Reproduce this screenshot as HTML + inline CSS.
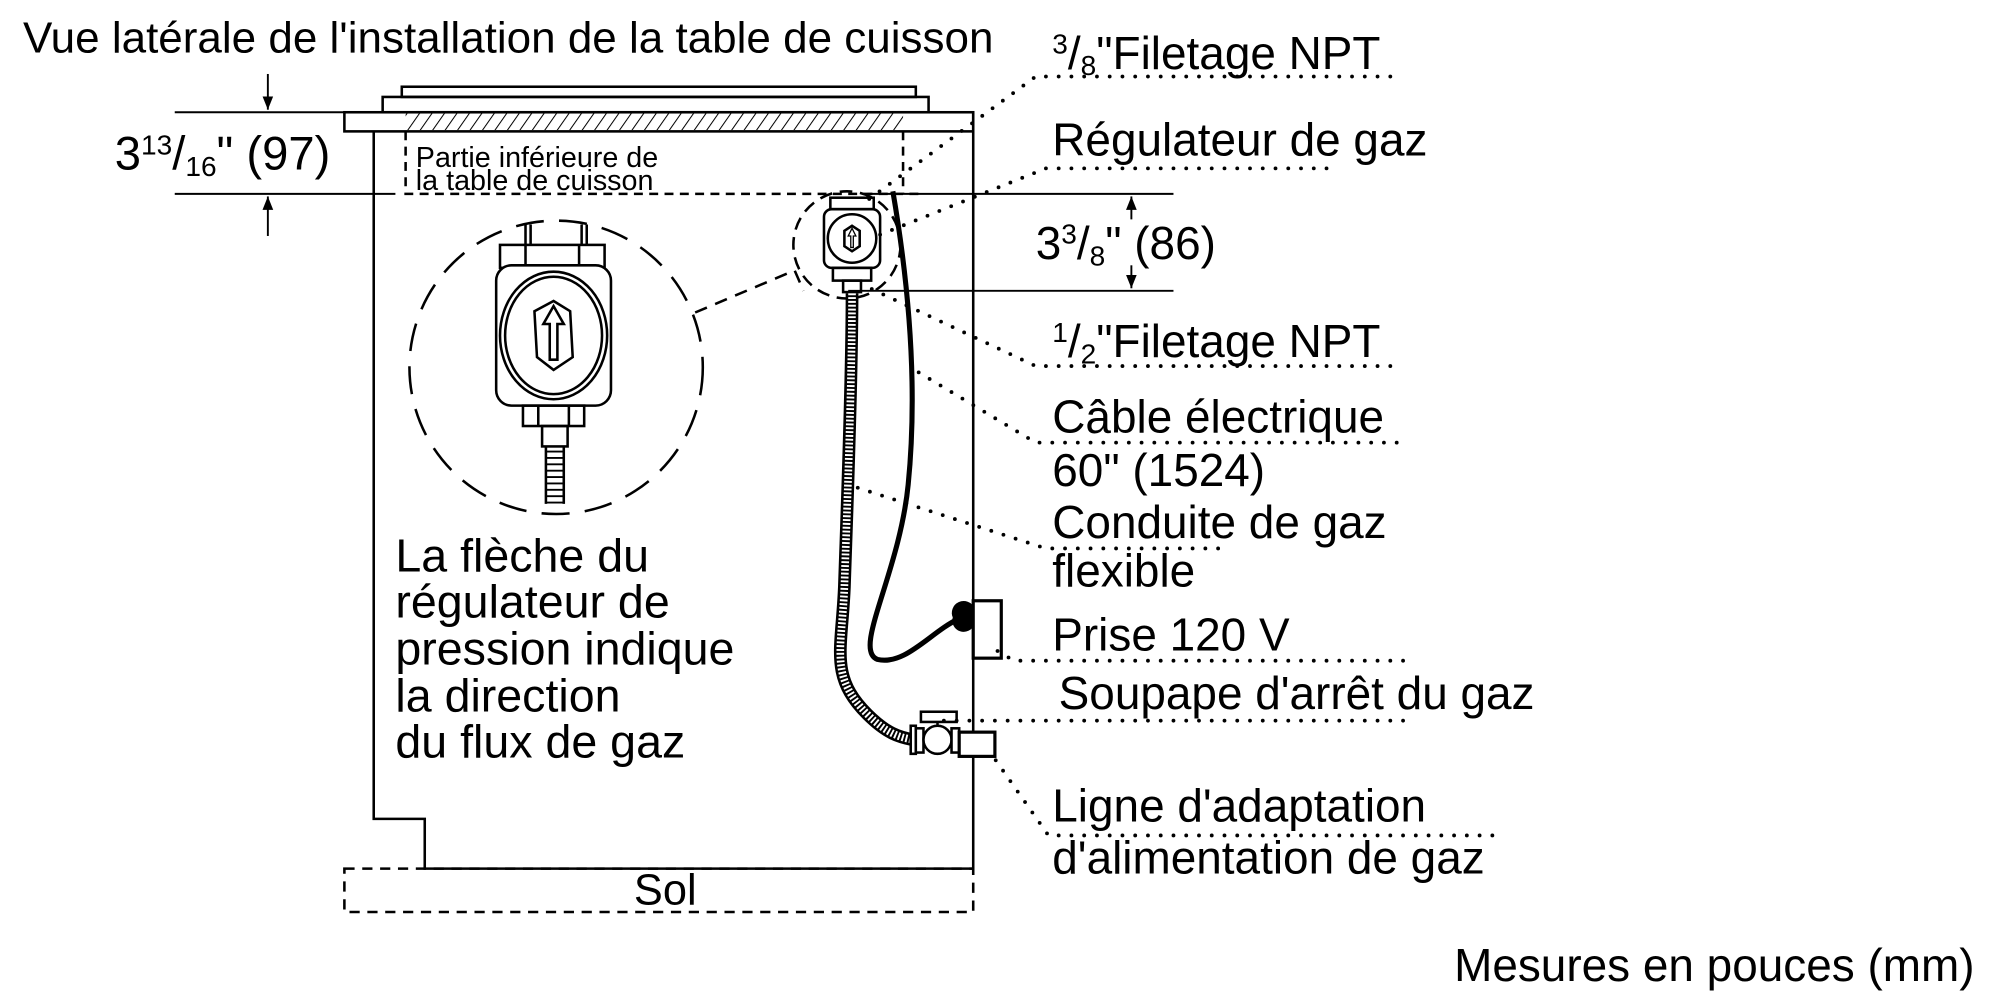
<!DOCTYPE html>
<html><head><meta charset="utf-8"><style>
html,body{margin:0;padding:0;background:#fff;}
svg{display:block;}
text{font-family:"Liberation Sans",Arial,sans-serif;fill:#000;}
</style></head><body>
<svg width="2000" height="1000" viewBox="0 0 1568 784" xmlns="http://www.w3.org/2000/svg">
<defs>
<pattern id="h" width="8" height="8" patternUnits="userSpaceOnUse" patternTransform="rotate(35)">
<line x1="0" y1="0" x2="0" y2="8" stroke="#000" stroke-width="1.6"/></pattern>
<marker id="a" viewBox="0 0 10 10" refX="10" refY="5" markerWidth="7" markerHeight="7" orient="auto"><path d="M0,1 L10,5 L0,9 z" fill="#000"/></marker>
</defs>
<g fill="none" stroke="#000" stroke-width="2">
<rect x="315" y="68" width="403" height="8"/>
<rect x="300" y="76" width="428" height="12"/>
<rect x="270" y="88" width="493" height="15"/>
<rect x="318" y="89" width="390" height="13" fill="url(#h)" stroke="none"/>
<polyline points="293,103 293,642 333,642 333,681 763,681 763,88"/>
<rect x="270" y="681" width="493" height="34" stroke-dasharray="8,6"/>
<path d="M318,103 V152 H720 M708,103 V152" stroke-dasharray="7,5"/>
<line x1="137" y1="88" x2="300" y2="88" stroke-width="1.5"/>
<line x1="137" y1="152" x2="310" y2="152" stroke-width="1.5"/>
<line x1="210" y1="58" x2="210" y2="86" stroke-width="1.5" marker-end="url(#a)"/>
<line x1="210" y1="185" x2="210" y2="154" stroke-width="1.5" marker-end="url(#a)"/>
<line x1="680" y1="152" x2="920" y2="152" stroke-width="1.5"/>
<line x1="665" y1="228" x2="920" y2="228" stroke-width="1.5"/>
<line x1="887" y1="172" x2="887" y2="154" stroke-width="1.5" marker-end="url(#a)"/>
<line x1="887" y1="208" x2="887" y2="226" stroke-width="1.5" marker-end="url(#a)"/>
<circle cx="436" cy="288" r="115" stroke-dasharray="22,12"/>
<polyline points="545,245 623,212 630,228" stroke-dasharray="10,7"/>
<circle cx="664" cy="192" r="42" stroke-dasharray="10,6"/>
<line x1="412" y1="176" x2="412" y2="192"/><line x1="416" y1="176" x2="416" y2="192"/>
<line x1="456" y1="176" x2="456" y2="192"/><line x1="460" y1="176" x2="460" y2="192"/>
<rect x="392" y="192" width="82" height="18" fill="#fff"/>
<line x1="412" y1="192" x2="412" y2="210"/><line x1="454" y1="192" x2="454" y2="210"/>
<rect x="389" y="208" width="90" height="110" rx="12" fill="#fff"/>
<ellipse cx="434" cy="263" rx="42" ry="50"/>
<ellipse cx="434" cy="263" rx="38" ry="46"/>
<polygon points="434,236 447,244 449,280 434,290 421,280 419,244"/>
<path d="M434,240 L442,254 L437,254 L437,282 L431,282 L431,254 L426,254 Z"/>
<rect x="410" y="318" width="48" height="16"/>
<line x1="422" y1="318" x2="422" y2="334"/><line x1="446" y1="318" x2="446" y2="334"/>
<rect x="425" y="334" width="20" height="16"/>
<path d="M428,350 V395 M442,350 V395" />
<path d="M428,354 h14 M428,359 h14 M428,364 h14 M428,369 h14 M428,374 h14 M428,379 h14 M428,384 h14 M428,389 h14 M428,394 h14" stroke-width="1.5"/>
<rect x="651" y="155" width="34" height="9"/>
<rect x="646" y="164" width="44" height="46" rx="6" fill="#fff"/>
<circle cx="668" cy="187" r="19"/>
<polygon points="668,177 674,181 674,193 668,197 662,193 662,181"/>
<path d="M668,179 L671,185 L669,185 L669,194 L667,194 L667,185 L665,185 Z" stroke-width="1"/>
<rect x="653" y="210" width="30" height="10"/>
<rect x="661" y="220" width="14" height="9"/>
<path d="M668,230 C668,300 664,400 662,460 C660,510 650,530 680,560 C695,575 705,578 716,580" stroke-width="10"/>
<path d="M668,230 C668,300 664,400 662,460 C660,510 650,530 680,560 C695,575 705,578 716,580" stroke="#fff" stroke-width="6" stroke-dasharray="1.5,1.5"/>
<path d="M700,150 C712,220 720,300 712,380 C705,450 668,510 688,517 C710,522 730,495 752,485" stroke-width="4"/>
<rect x="763" y="471" width="22" height="45" stroke-width="2.5"/>
<path d="M748,484 a7,7 0 0 1 15,-7 v12 a7,7 0 0 1 -15,-5z" fill="#000"/>
<rect x="714" y="569" width="4" height="22" fill="#fff"/>
<rect x="718" y="571" width="6" height="19" fill="#fff"/>
<ellipse cx="735" cy="580" rx="11" ry="11" fill="#fff"/>
<rect x="746" y="571" width="6" height="19" fill="#fff"/>
<line x1="735" y1="563" x2="735" y2="569"/>
<rect x="722" y="558" width="28" height="8" fill="#fff"/>
<rect x="752" y="574" width="28" height="19" stroke-width="2.5" fill="#fff"/>
</g>
<g fill="none" stroke="#000" stroke-width="3" stroke-linecap="round" stroke-dasharray="0,10">
<polyline points="1090,60 812,60 676,160"/>
<polyline points="1040,132 820,132 690,184"/>
<polyline points="1090,287 812,287 680,225"/>
<polyline points="1095,347 812,347 712,287"/>
<polyline points="955,430 820,430 665,380"/>
<polyline points="1100,518 795,518 778,508"/>
<polyline points="1100,565 735,565"/>
<polyline points="1170,655 822,655 775,588"/>
</g>
<text x="18" y="41" font-size="34.5">Vue latérale de l'installation de la table de cuisson</text>
<text x="90" y="133" font-size="37">3<tspan font-size="22" dy="-12">13</tspan><tspan dy="12">/</tspan><tspan font-size="22" dy="5">16</tspan><tspan dy="-5">" (97)</tspan></text>
<text x="326" y="131" font-size="22.5">Partie inférieure de</text>
<text x="326" y="149" font-size="22.5">la table de cuisson</text>
<text x="825" y="54" font-size="36"><tspan font-size="22" dy="-12">3</tspan><tspan dy="12">/</tspan><tspan font-size="22" dy="5">8</tspan><tspan dy="-5">"Filetage NPT</tspan></text>
<text x="825" y="122" font-size="36">Régulateur de gaz</text>
<text x="812" y="203" font-size="36">3<tspan font-size="22" dy="-12">3</tspan><tspan dy="12">/</tspan><tspan font-size="22" dy="5">8</tspan><tspan dy="-5">" (86)</tspan></text>
<text x="825" y="280" font-size="36"><tspan font-size="22" dy="-12">1</tspan><tspan dy="12">/</tspan><tspan font-size="22" dy="5">2</tspan><tspan dy="-5">"Filetage NPT</tspan></text>
<text x="825" y="339" font-size="36">Câble électrique</text>
<text x="825" y="381" font-size="36">60" (1524)</text>
<text x="825" y="422" font-size="36">Conduite de gaz</text>
<text x="825" y="460" font-size="36">flexible</text>
<text x="825" y="510" font-size="36">Prise 120 V</text>
<text x="830" y="556" font-size="36">Soupape d'arrêt du gaz</text>
<text x="825" y="644" font-size="36">Ligne d'adaptation</text>
<text x="825" y="685" font-size="36">d'alimentation de gaz</text>
<text x="497" y="709" font-size="34">Sol</text>
<text x="1140" y="769" font-size="36">Mesures en pouces (mm)</text>
<g font-size="36.5">
<text x="310" y="448">La flèche du</text>
<text x="310" y="484">régulateur de</text>
<text x="310" y="521">pression indique</text>
<text x="310" y="558">la direction</text>
<text x="310" y="594">du flux de gaz</text>
</g>
</svg>
</body></html>
